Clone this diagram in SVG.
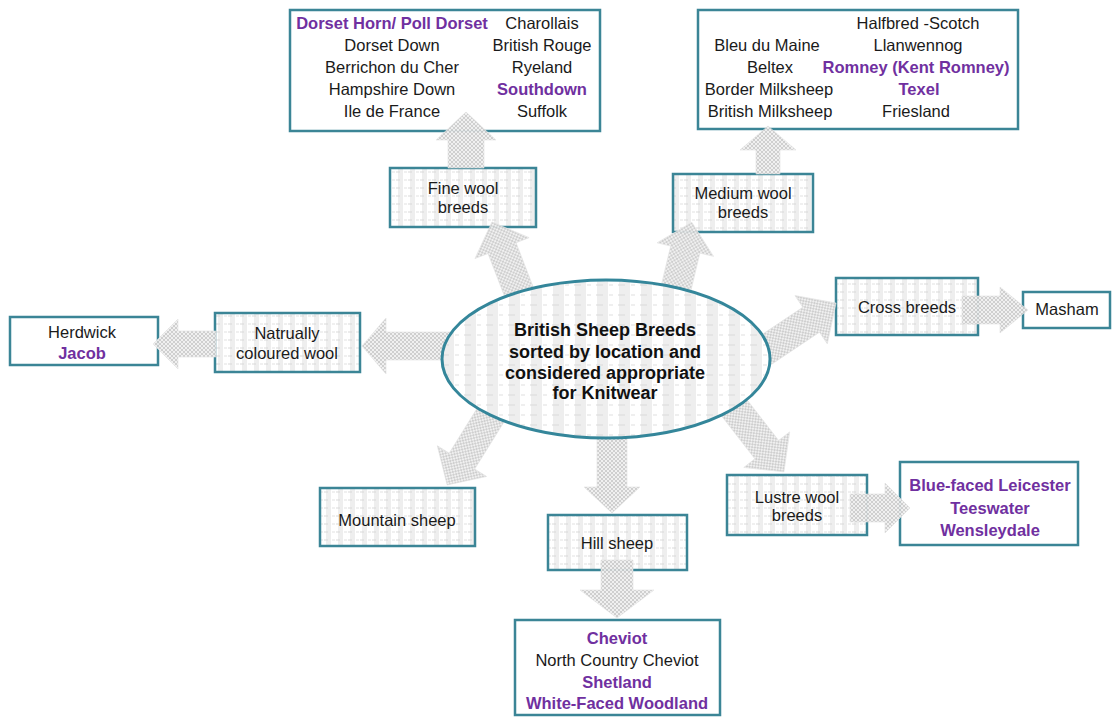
<svg xmlns="http://www.w3.org/2000/svg" width="1117" height="718" viewBox="0 0 1117 718">
  <defs>
    <!-- light striped fill used by the category boxes -->
    <pattern id="stripes" width="12" height="8" patternUnits="userSpaceOnUse">
      <rect width="12" height="8" fill="#ffffff"/>
      <rect x="2" width="5" height="8" fill="#eeeeee"/>
      <line x1="0" y1="4" x2="4" y2="4" stroke="#d9d9d9" stroke-width="1"/>
      <line x1="8" y1="4" x2="11" y2="4" stroke="#e2e2e2" stroke-width="1"/>
    </pattern>
    <!-- wider stripes for the central ellipse -->
    <pattern id="stripesWide" width="22" height="10" patternUnits="userSpaceOnUse">
      <rect width="22" height="10" fill="#ffffff"/>
      <rect x="3" width="11" height="10" fill="#eeeeee"/>
      <line x1="2" y1="5" x2="9" y2="5" stroke="#dadada" stroke-width="1"/>
      <line x1="15" y1="5" x2="19" y2="5" stroke="#e0e0e0" stroke-width="1"/>
    </pattern>
    <!-- crosshatch for the block arrows -->
    <pattern id="hatch" width="4" height="4" patternUnits="userSpaceOnUse">
      <rect width="4" height="4" fill="#f0f0f0"/>
      <path d="M0,0 L4,4 M4,0 L0,4" stroke="#c9c9c9" stroke-width="0.9"/>
    </pattern>
  </defs>
  <style>
    .cat { fill: url(#stripes); stroke: #3b8596; stroke-width: 2.5; }
    .list { fill: #ffffff; stroke: #3b8596; stroke-width: 2.5; }
    .hub { fill: url(#stripesWide); stroke: #34869a; stroke-width: 3; }
    .arrow { fill: url(#hatch); stroke: #e0e0e0; stroke-width: 0.6; opacity: 0.95; }
    text { font-family: "Liberation Sans", Arial, sans-serif; font-size: 16.5px; fill: #1a1a1a; text-anchor: middle; }
    .p { fill: #7030a0; font-weight: bold; }
    .hubtxt { font-size: 18px; font-weight: bold; fill: #111111; }
  </style>

  <rect width="1117" height="718" fill="#ffffff"/>

  <!-- breed list boxes and category boxes -->
  <g id="fine-list">
    <rect class="list" x="290" y="10" width="310" height="121"/>
    <text x="392" y="29" class="p">Dorset Horn/ Poll Dorset</text>
    <text x="392" y="51">Dorset Down</text>
    <text x="392" y="73">Berrichon du Cher</text>
    <text x="392" y="95">Hampshire Down</text>
    <text x="392" y="117">Ile de France</text>
    <text x="542" y="29">Charollais</text>
    <text x="542" y="51">British Rouge</text>
    <text x="542" y="73">Ryeland</text>
    <text x="542" y="95" class="p">Southdown</text>
    <text x="542" y="117">Suffolk</text>
  </g>

  <g id="medium-list">
    <rect class="list" x="698" y="10" width="320" height="119"/>
    <text x="918" y="29">Halfbred -Scotch</text>
    <text x="767" y="51">Bleu du Maine</text>
    <text x="918" y="51">Llanwennog</text>
    <text x="770" y="73">Beltex</text>
    <text x="916" y="73" class="p">Romney (Kent Romney)</text>
    <text x="769" y="95">Border Milksheep</text>
    <text x="919" y="95" class="p">Texel</text>
    <text x="770" y="117">British Milksheep</text>
    <text x="916" y="117">Friesland</text>
  </g>

  <g id="fine-wool">
    <rect class="cat" x="390" y="168" width="146" height="59"/>
    <text x="463" y="194">Fine wool</text>
    <text x="463" y="213">breeds</text>
  </g>

  <g id="medium-wool">
    <rect class="cat" x="673" y="174" width="140" height="58"/>
    <text x="743" y="199">Medium wool</text>
    <text x="743" y="218">breeds</text>
  </g>

  <g id="coloured-list">
    <rect class="list" x="10" y="317" width="148" height="48"/>
    <text x="82" y="338">Herdwick</text>
    <text x="82" y="359" class="p">Jacob</text>
  </g>

  <g id="coloured-wool">
    <rect class="cat" x="215" y="313" width="145" height="59"/>
    <text x="287" y="339">Natrually</text>
    <text x="287" y="359">coloured wool</text>
  </g>

  <g id="cross-breeds">
    <rect class="cat" x="836" y="278" width="142" height="57"/>
    <text x="907" y="313">Cross breeds</text>
  </g>

  <g id="cross-list">
    <rect class="list" x="1023" y="292" width="87" height="36"/>
    <text x="1067" y="315">Masham</text>
  </g>

  <g id="mountain-sheep">
    <rect class="cat" x="320" y="488" width="155" height="58"/>
    <text x="397" y="526">Mountain sheep</text>
  </g>

  <g id="hill-sheep">
    <rect class="cat" x="548" y="515" width="139" height="55"/>
    <text x="617" y="549">Hill sheep</text>
  </g>

  <g id="hill-list">
    <rect class="list" x="515" y="620" width="205" height="95"/>
    <text x="617" y="644" class="p">Cheviot</text>
    <text x="617" y="666">North Country Cheviot</text>
    <text x="617" y="688" class="p">Shetland</text>
    <text x="617" y="709" class="p">White-Faced Woodland</text>
  </g>

  <g id="lustre-wool">
    <rect class="cat" x="727" y="475" width="140" height="60"/>
    <text x="797" y="503">Lustre wool</text>
    <text x="797" y="521">breeds</text>
  </g>

  <g id="lustre-list">
    <rect class="list" x="900" y="462" width="178" height="83"/>
    <text x="990" y="491" class="p">Blue-faced Leicester</text>
    <text x="990" y="514" class="p">Teeswater</text>
    <text x="990" y="536" class="p">Wensleydale</text>
  </g>

  <!-- block arrows: each drawn pointing along +x, then placed at its tail and rotated -->
  <g id="connectors">
    <path class="arrow" transform="translate(466,168) rotate(-90)" d="M0,-18 L28,-18 L28,-30 L56,0 L28,30 L28,18 L0,18Z"/>
    <path class="arrow" transform="translate(768,174) rotate(-90)" d="M0,-12 L24,-12 L24,-28 L48,0 L24,28 L24,12 L0,12Z"/>
    <path class="arrow" transform="translate(524,305) rotate(-111.1)" d="M0,-15 L61,-15 L61,-29 L89,0 L61,29 L61,15 L0,15Z"/>
    <path class="arrow" transform="translate(672,305) rotate(-76.5)" d="M0,-15 L57,-15 L57,-29 L85,0 L57,29 L57,15 L0,15Z"/>
    <path class="arrow" transform="translate(455,346) rotate(180)" d="M0,-14 L69,-14 L69,-28 L93,0 L69,28 L69,14 L0,14Z"/>
    <path class="arrow" transform="translate(216,344) rotate(180)" d="M0,-13 L38,-13 L38,-25 L63,0 L38,25 L38,13 L0,13Z"/>
    <path class="arrow" transform="translate(748,362) rotate(-33.8)" d="M0,-15 L76,-15 L76,-29 L106,0 L76,29 L76,15 L0,15Z"/>
    <path class="arrow" transform="translate(962,310)" d="M0,-14 L38,-14 L38,-23 L66,0 L38,23 L38,14 L0,14Z"/>
    <path class="arrow" transform="translate(500,400) rotate(121.9)" d="M0,-15 L72,-15 L72,-29 L100,0 L72,29 L72,15 L0,15Z"/>
    <path class="arrow" transform="translate(612,425) rotate(90)" d="M0,-15 L62,-15 L62,-28 L88,0 L62,28 L62,15 L0,15Z"/>
    <path class="arrow" transform="translate(617,560) rotate(90)" d="M0,-16 L30,-16 L30,-37 L58,0 L30,37 L30,16 L0,16Z"/>
    <path class="arrow" transform="translate(722,392) rotate(52.2)" d="M0,-15 L73,-15 L73,-29 L101,0 L73,29 L73,15 L0,15Z"/>
    <path class="arrow" transform="translate(850,508)" d="M0,-14 L35,-14 L35,-25 L60,0 L35,25 L35,14 L0,14Z"/>
  </g>

  <!-- central hub, drawn last so arrow tails sit beneath it -->
  <g id="hub">
    <ellipse class="hub" cx="606" cy="359" rx="164" ry="79"/>
    <text x="605" y="336" class="hubtxt">British Sheep Breeds</text>
    <text x="605" y="358" class="hubtxt">sorted by location and</text>
    <text x="605" y="379" class="hubtxt">considered appropriate</text>
    <text x="605" y="399" class="hubtxt">for Knitwear</text>
  </g>
</svg>
